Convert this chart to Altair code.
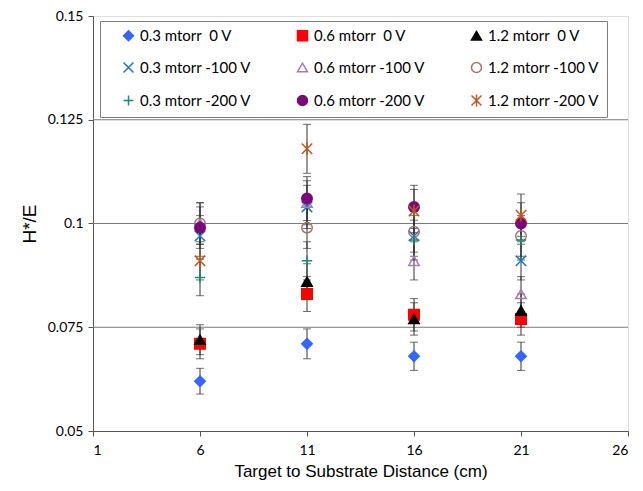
import altair as alt
import pandas as pd

NB = "\u00a0"
distances = [6, 11, 16, 21]
series_names = [
    "0.3 mtorr" + NB + NB + "0 V", "0.6 mtorr" + NB + NB + "0 V", "1.2 mtorr" + NB + NB + "0 V",
    "0.3 mtorr -100 V", "0.6 mtorr -100 V", "1.2 mtorr -100 V",
    "0.3 mtorr -200 V", "0.6 mtorr -200 V", "1.2 mtorr -200 V",
]
values = [
    [0.062, 0.071, 0.068, 0.068],
    [0.071, 0.083, 0.078, 0.077],
    [0.072, 0.086, 0.077, 0.079],
    [0.097, 0.104, 0.097, 0.091],
    [0.100, 0.105, 0.091, 0.083],
    [0.100, 0.099, 0.098, 0.097],
    [0.087, 0.091, 0.096, 0.096],
    [0.099, 0.106, 0.104, 0.100],
    [0.091, 0.118, 0.103, 0.102],
]
errors = [
    [0.0031, 0.0036, 0.0034, 0.0034],
    [0.0036, 0.0042, 0.0039, 0.0039],
    [0.0036, 0.0043, 0.0039, 0.0040],
    [0.0049, 0.0052, 0.0049, 0.0046],
    [0.0050, 0.0053, 0.0046, 0.0042],
    [0.0050, 0.0050, 0.0049, 0.0049],
    [0.0044, 0.0046, 0.0048, 0.0048],
    [0.0050, 0.0053, 0.0052, 0.0050],
    [0.0046, 0.0059, 0.0052, 0.0051],
]
grid_values = [0.075, 0.1, 0.125]
y_ticks = [0.05, 0.075, 0.1, 0.125, 0.15]
x_ticks = [1, 6, 11, 16, 21, 26]

X_PATH = "M-1,-1L1,1M-1,1L1,-1"
PLUS_PATH = "M-1,0L1,0M0,-1L0,1"
AST_PATH = "M-1,-1L1,1M-1,1L1,-1M0,-1.2L0,1.2"

shapes = ["diamond", "square", "triangle-up", X_PATH, "triangle-up", "circle",
          PLUS_PATH, "circle", AST_PATH]
strokes = ["#3366ff", "#ff0000", "#000000", "#1e78c8", "#a97bb5", "#a8706a",
           "#1a8a7a", "#7a0a7a", "#c0561e"]
fills = ["#3366ff", "#ff0000", "#000000", "transparent", "transparent", "transparent",
         "transparent", "#7a0a7a", "transparent"]

rows = []
for name, vals, errs in zip(series_names, values, errors):
    for d, v, e in zip(distances, vals, errs):
        rows.append({"series": name, "x": d, "y": v, "lo": v - e, "hi": v + e})
df = pd.DataFrame(rows)
grid_df = pd.DataFrame({"y": grid_values})

xscale = alt.Scale(domain=[1, 26], nice=False, zero=False)
yscale = alt.Scale(domain=[0.05, 0.15], nice=False, zero=False)

xaxis = alt.Axis(
    values=x_ticks, title="Target to Substrate Distance (cm)", grid=False,
    labelFont="Lato", labelFontSize=14, labelColor="#000", labelPadding=7,
    titleFont="Liberation Sans", titleFontSize=17, titleFontWeight="normal",
    titleColor="#000", titlePadding=6, domainColor="#555", tickColor="#555", tickSize=5)
yaxis = alt.Axis(
    values=y_ticks, title="H*/E", grid=False, labelExpr="datum.value + ''",
    labelFont="Lato", labelFontSize=14, labelColor="#000", labelPadding=5,
    titleFont="Liberation Sans", titleFontSize=19, titleFontWeight="normal",
    titleColor="#000", titlePadding=8, domainColor="#555", tickColor="#555", tickSize=5)

xenc = alt.X("x:Q", scale=xscale, axis=xaxis)
yenc = alt.Y("y:Q", scale=yscale, axis=yaxis)

grid = alt.Chart(grid_df).mark_rule(color="#7a7a7a", strokeWidth=1).encode(y=yenc)

base = alt.Chart(df)
err_rule = base.mark_rule(color="#333", strokeWidth=1).encode(
    x=xenc, y=alt.Y("lo:Q", scale=yscale, axis=yaxis), y2="hi:Q")
cap_lo = base.mark_tick(color="#333", orient="horizontal", size=8, thickness=1).encode(
    x=xenc, y=alt.Y("lo:Q", scale=yscale, axis=yaxis))
cap_hi = base.mark_tick(color="#333", orient="horizontal", size=8, thickness=1).encode(
    x=xenc, y=alt.Y("hi:Q", scale=yscale, axis=yaxis))

legend = alt.Legend(
    orient="none", legendX=7, legendY=5, columns=3, direction="horizontal",
    fillColor="white", strokeColor="#7f7f7f", padding=7, symbolOffset=14,
    columnPadding=29, rowPadding=15, labelFont="Lato", labelFontSize=15,
    labelColor="#000", symbolSize=100, symbolStrokeWidth=1.5, labelOffset=4)

points = base.mark_point(opacity=1, size=110, strokeWidth=1.5).encode(
    x=xenc, y=yenc,
    shape=alt.Shape("series:N", scale=alt.Scale(domain=series_names, range=shapes),
                    legend=legend, title=None),
    stroke=alt.Stroke("series:N", scale=alt.Scale(domain=series_names, range=strokes),
                      legend=legend, title=None),
    fill=alt.Fill("series:N", scale=alt.Scale(domain=series_names, range=fills),
                  legend=legend, title=None),
)

chart = alt.layer(grid, err_rule, cap_lo, cap_hi, points).properties(
    width=535, height=415,
    autosize=alt.AutoSizeParams(type="none"),
    padding={"left": 85, "top": 8, "right": 5, "bottom": 52},
).configure_view(stroke="#c8c8c8", strokeWidth=1).configure(background="white")

chart.save("out.html", embed_options={"renderer": "svg", "actions": False})
